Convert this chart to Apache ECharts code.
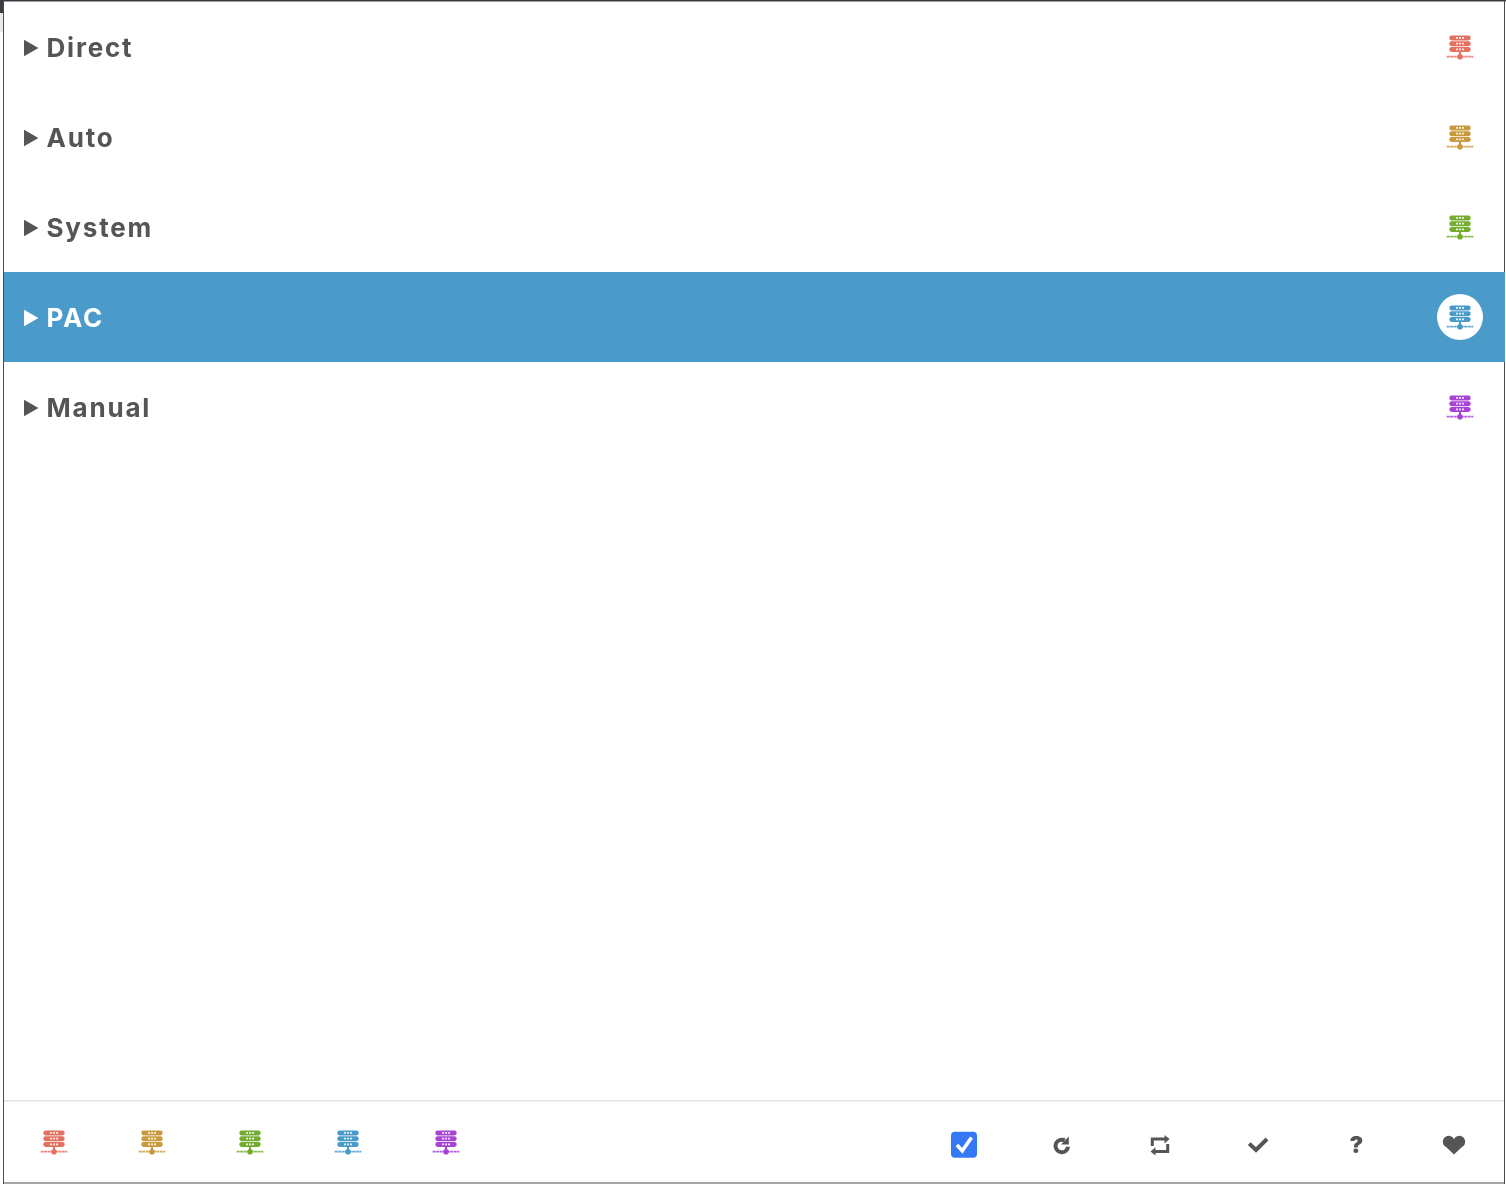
<!DOCTYPE html>
<html>
<head>
<meta charset="utf-8">
<title>Proxy modes</title>
<style>
  html, body { margin: 0; padding: 0; background: #fff; }
  #main { width: 1506px; height: 1184px; }
</style>
<script src="https://cdn.jsdelivr.net/npm/echarts@6/dist/echarts.min.js"></script>
</head>
<body>
<div id="main"></div>
<script>
// the list of modes
const modes = ['Direct', 'Auto', 'System', 'PAC', 'Manual'];
const modeColors = ['#e4705f', '#c99a3b', '#74ac2f', '#4a9aca', '#a744d6'];
const selectedMode = 'PAC';

const ink = '#555555';
const rowHeight = 90;
const firstRowTop = 2;
const rowIconX = 1460;
const toolbarIconXs = [54, 152, 250, 348, 446];
const toolbarIconY = 1151.7;

// zrender has no letter spacing option, so set it when text gets drawn
const drawText = CanvasRenderingContext2D.prototype.fillText;
CanvasRenderingContext2D.prototype.fillText = function (text, x, y) {
  this.letterSpacing = '1.8px';
  return drawText.call(this, text, x, y);
};

const chart = echarts.init(document.getElementById('main'), null, { renderer: 'canvas' });

// server rack icon, x/y is the small dot on the bottom line
function serverIcon(x, y, color) {
  const els = [];
  [-21.2, -15.5, -9.8].forEach(function (dy) {
    els.push({ type: 'rect', shape: { x: x - 10.7, y: y + dy, width: 21.4, height: 5, r: 2.4 }, style: { fill: color } });
    [-3.8, -0.8, 2.2].forEach(function (dx) {
      els.push({ type: 'rect', shape: { x: x + dx, y: y + dy + 1.6, width: 1.7, height: 1.7 }, style: { fill: '#fff' } });
    });
  });
  els.push({ type: 'rect', shape: { x: x - 1, y: y - 5, width: 2, height: 5 }, style: { fill: color } });
  els.push({ type: 'line', shape: { x1: x - 13.3, y1: y, x2: x + 13.3, y2: y }, style: { stroke: color, lineWidth: 1.8, lineDash: [3, 0.5], opacity: 0.85 } });
  els.push({ type: 'circle', shape: { cx: x, cy: y, r: 2.8 }, style: { fill: color } });
  return els;
}

function buildRows() {
  const els = [];
  modes.forEach(function (name, i) {
    const top = firstRowTop + i * rowHeight;
    const mid = top + 46;
    const selected = name === selectedMode;
    const textColor = selected ? '#fff' : ink;
    if (selected) {
      els.push({ type: 'rect', shape: { x: 4, y: top, width: 1501, height: rowHeight }, style: { fill: modeColors[i] } });
      els.push({ type: 'circle', shape: { cx: rowIconX, cy: top + 45, r: 23 }, style: { fill: '#fff' } });
    }
    els.push({ type: 'polygon', shape: { points: [[24, mid - 8.2], [38.4, mid], [24, mid + 8.2]] }, style: { fill: textColor } });
    els.push({
      type: 'text', x: 46.5, y: mid + 1,
      style: { text: name, fill: textColor, font: '700 26px Inter', textAlign: 'left', textVerticalAlign: 'middle' }
    });
    els.push.apply(els, serverIcon(rowIconX, top + 54.7, modeColors[i]));
  });
  return els;
}

function buildToolbar() {
  const els = [];
  modeColors.forEach(function (color, i) {
    els.push.apply(els, serverIcon(toolbarIconXs[i], toolbarIconY, color));
  });

  // blue checkbox
  els.push({ type: 'rect', shape: { x: 951, y: 1131.7, width: 26, height: 26, r: 4 }, style: { fill: '#3478f6' } });
  els.push({ type: 'polyline', shape: { points: [[957, 1145], [962.3, 1150.8], [971.5, 1137.5]] }, style: { stroke: '#fff', lineWidth: 3.6, fill: null } });

  // reload
  els.push({ type: 'arc', shape: { cx: 1061.8, cy: 1146, r: 6.3, startAngle: 0.12, endAngle: -1.1, clockwise: true }, style: { stroke: ink, lineWidth: 4, fill: null } });
  els.push({ type: 'polygon', shape: { points: [[1068.8, 1136.6], [1068.8, 1144.5], [1061, 1144.5]] }, style: { fill: ink } });

  // retweet
  els.push({ type: 'polyline', shape: { points: [[1152.3, 1146], [1152.3, 1139], [1165, 1139]] }, style: { stroke: ink, lineWidth: 3, fill: null } });
  els.push({ type: 'polygon', shape: { points: [[1164.5, 1135], [1169.6, 1139], [1164.5, 1143.4]] }, style: { fill: ink } });
  els.push({ type: 'polyline', shape: { points: [[1167.7, 1144], [1167.7, 1151.6], [1155, 1151.6]] }, style: { stroke: ink, lineWidth: 3, fill: null } });
  els.push({ type: 'polygon', shape: { points: [[1155.5, 1147.2], [1150.5, 1151.6], [1155.5, 1155.6]] }, style: { fill: ink } });

  // tick
  els.push({ type: 'polyline', shape: { points: [[1249.2, 1143.6], [1256, 1150], [1267, 1139]] }, style: { stroke: ink, lineWidth: 4, fill: null } });

  // help
  els.push({ type: 'text', x: 1357.2, y: 1146.5, style: { text: '?', fill: ink, font: '900 23px Inter', textAlign: 'center', textVerticalAlign: 'middle' } });

  // heart
  els.push({ type: 'circle', shape: { cx: 1448.7, cy: 1141.6, r: 5.9 }, style: { fill: ink } });
  els.push({ type: 'circle', shape: { cx: 1459.3, cy: 1141.6, r: 5.9 }, style: { fill: ink } });
  els.push({ type: 'polygon', shape: { points: [[1443.4, 1144.4], [1454, 1154.4], [1464.6, 1144.4], [1454, 1139]] }, style: { fill: ink } });
  return els;
}

function buildFrame() {
  const frame = '#4a4a4a';
  return [
    { type: 'rect', shape: { x: 0, y: 0, width: 1506, height: 1184 }, style: { fill: '#fff' } },
    { type: 'rect', shape: { x: 0, y: 13, width: 3, height: 19 }, style: { fill: '#e9e9e9' } },
    { type: 'rect', shape: { x: 0, y: 0, width: 1506, height: 1.6 }, style: { fill: '#3a3c44' } },
    { type: 'rect', shape: { x: 0, y: 0, width: 3, height: 13 }, style: { fill: '#3a3c44' } },
    { type: 'rect', shape: { x: 3, y: 0, width: 1, height: 1184 }, style: { fill: frame } },
    { type: 'rect', shape: { x: 1504, y: 0, width: 1, height: 1184 }, style: { fill: frame } },
    { type: 'rect', shape: { x: 3, y: 1182.5, width: 1502, height: 1 }, style: { fill: frame } },
    { type: 'rect', shape: { x: 4, y: 1100, width: 1500, height: 1.5 }, style: { fill: '#e3e3e3' } }
  ];
}

const option = {
  animation: false,
  backgroundColor: '#fff',
  graphic: { elements: buildFrame().concat(buildRows(), buildToolbar()) }
};
chart.setOption(option);
</script>
</body>
</html>
